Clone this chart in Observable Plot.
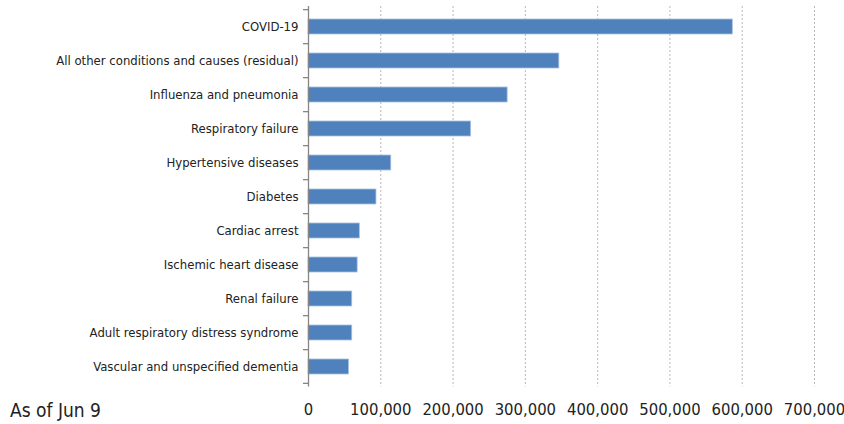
<!DOCTYPE html>
<html>
<head>
<meta charset="utf-8">
<script src="https://cdn.jsdelivr.net/npm/d3@7"></script>
<script src="https://cdn.jsdelivr.net/npm/@observablehq/plot@0.6"></script>
<style>
  html, body { margin: 0; padding: 0; background: #fff; }
  #wrap { position: relative; width: 844px; height: 424px; }
  #note { position: absolute; left: 10px; top: 399px; font-family: "DejaVu Sans Condensed", sans-serif; font-size: 19px; color: #222; }
</style>
</head>
<body>
<div id="wrap"><div id="note">As of Jun 9</div></div>
<script>
const categories = [
  "COVID-19",
  "All other conditions and causes (residual)",
  "Influenza and pneumonia",
  "Respiratory failure",
  "Hypertensive diseases",
  "Diabetes",
  "Cardiac arrest",
  "Ischemic heart disease",
  "Renal failure",
  "Adult respiratory distress syndrome",
  "Vascular and unspecified dementia"
];
const deaths = [587000, 347000, 275500, 225000, 114500, 94000, 71000, 68000, 60500, 60500, 56000];
const xTicks = [0, 100000, 200000, 300000, 400000, 500000, 600000, 700000];

const data = categories.map((c, i) => ({cause: c, value: deaths[i]}));
const font = '"DejaVu Sans Condensed", sans-serif';

const chart = Plot.plot({
  width: 844,
  height: 424,
  marginLeft: 308,
  marginRight: 30,
  marginTop: 6,
  marginBottom: 37.5,
  style: {fontFamily: font, fontSize: "13px", color: "#222", background: "#fff"},
  x: {domain: [0, 700000], ticks: xTicks, tickFormat: d3.format(","), label: null},
  y: {domain: categories, paddingInner: 0.55, paddingOuter: 0.275, label: null},
  marks: [
    Plot.ruleX(xTicks.slice(1), {stroke: "#b8b8b8", strokeDasharray: "2,2", strokeWidth: 1}),
    Plot.barX(data, {y: "cause", x: "value", fill: "#4F81BD", stroke: "#a9c1e0", strokeWidth: 0.8}),
    Plot.ruleX([0], {stroke: "#868686", strokeWidth: 1.3}),
    Plot.axisX({ticks: xTicks, tickFormat: d3.format(","), tickSize: 0, tickPadding: 16, fontSize: 16.5, label: null}),
    Plot.axisY({tickSize: 0, tickPadding: 10, label: null})
  ]
});

// band-boundary tick marks on the category axis, placed with Plot's own y scale
const ys = chart.scale("y");
const half = ys.paddingInner * ys.step / 2;
const bounds = categories.map(c => ys.apply(c) - half);
bounds.push(ys.apply(categories[categories.length - 1]) + ys.bandwidth + half);
const x0 = chart.scale("x").apply(0);
d3.select(chart).append("g")
  .selectAll("line").data(bounds).join("line")
  .attr("x1", x0 - 5).attr("x2", x0)
  .attr("y1", d => d).attr("y2", d => d)
  .attr("stroke", "#868686").attr("stroke-width", 1.3);

document.getElementById("wrap").prepend(chart);
</script>
</body>
</html>
